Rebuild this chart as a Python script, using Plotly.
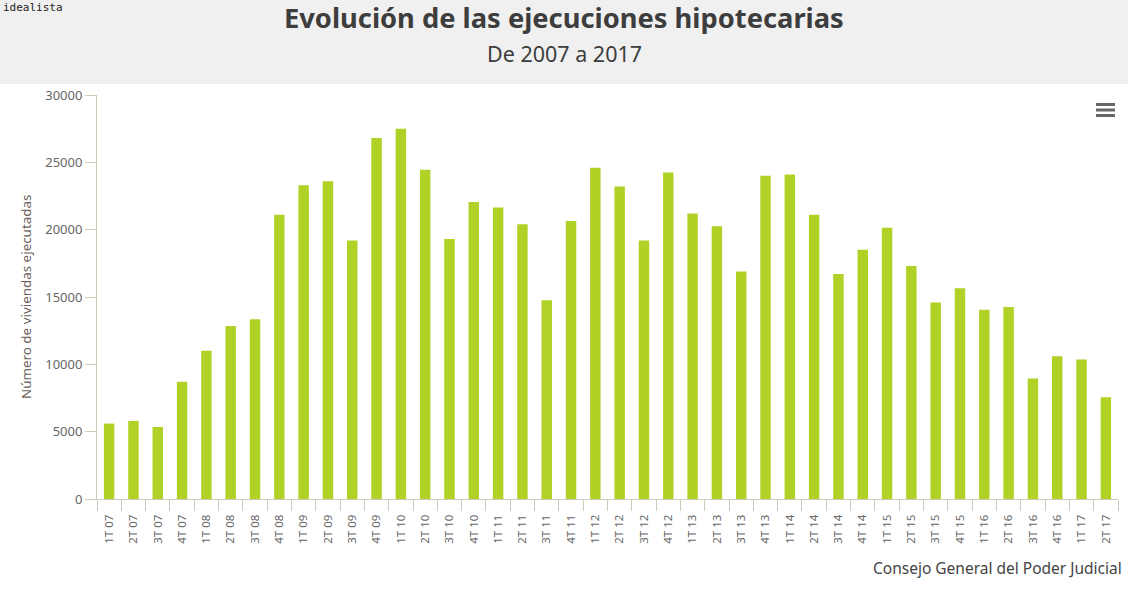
import plotly.graph_objects as go

years = ["07", "08", "09", "10", "11", "12", "13", "14", "15", "16", "17"]
categories = [f"{q}T {y}" for y in years for q in (1, 2, 3, 4)][:42]
values = [5600, 5800, 5350, 8700, 11000, 12850, 13350, 21100, 23300, 23600, 19200,
          26800, 27500, 24450, 19300, 22050, 21650, 20400, 14750, 20650, 24600,
          23200, 19200, 24250, 21200, 20250, 16900, 24000, 24100, 21100, 16700,
          18500, 20150, 17300, 14600, 15650, 14050, 14250, 8950, 10600, 10350, 7550]
title = "Evolución de las ejecuciones hipotecarias"
subtitle = "De 2007 a 2017"
y_title = "Número de viviendas ejecutadas"
credit = "Consejo General del Poder Judicial"
brand = "idealista"

W, H = 1128, 591
L, R, T, B = 97, 10, 95, 92
FONT = "Noto Sans"
PW, PH = W - L - R, H - T - B
px = lambda x: (x - L) / PW
py = lambda y: 1 - (y - T) / PH

fig = go.Figure(go.Bar(x=categories, y=values, marker_color="#b0d126",
                       marker_line_width=0, width=0.43))

shapes = [dict(type="rect", xref="paper", yref="paper", x0=px(0), x1=px(W),
               y0=py(0), y1=py(84), fillcolor="#f0f0f0", line_width=0, layer="below")]
for yy in (104.5, 110, 115.5):
    shapes.append(dict(type="line", xref="paper", yref="paper", x0=px(1096), x1=px(1115),
                       y0=py(yy), y1=py(yy), line=dict(color="#666666", width=3)))

annotations = [
    dict(text=f"<b>{title}</b>", x=px(564), y=py(17.5), xref="paper", yref="paper", showarrow=False,
         xanchor="center", yanchor="middle", font=dict(family=FONT, size=27.3, color="#3d3d3d")),
    dict(text=subtitle, x=px(564), y=py(54), xref="paper", yref="paper", showarrow=False,
         xanchor="center", yanchor="middle", font=dict(family=FONT, size=21.5, color="#3d3d3d")),
    dict(text=credit, x=px(1124), y=py(568), xref="paper", yref="paper", showarrow=False,
         xanchor="right", yanchor="middle", font=dict(family=FONT, size=15.5, color="#444444")),
    dict(text=brand, x=px(1), y=py(7), xref="paper", yref="paper", showarrow=False,
         xanchor="left", yanchor="middle", font=dict(family="DejaVu Sans Mono", size=11, color="#222222")),
    dict(text=y_title, x=px(26), y=py(297), xref="paper", yref="paper", showarrow=False, textangle=-90,
         xanchor="center", yanchor="middle", font=dict(family=FONT, size=13.4, color="#6b5f57")),
]

fig.update_layout(
    width=W, height=H, margin=dict(l=L, r=R, t=T, b=B), autosize=False,
    paper_bgcolor="white", plot_bgcolor="white", showlegend=False,
    font=dict(family=FONT, size=11, color="#666666"),
    shapes=shapes, annotations=annotations,
    xaxis=dict(type="category", tickson="boundaries", ticks="outside", ticklen=11, tickwidth=1,
               tickcolor="#ccccbb", showline=True, linecolor="#ccccbb", linewidth=1,
               showgrid=False, tickangle=-90, tickfont=dict(size=11.5, color="#666666"),
               ticklabelstandoff=10,
               categoryorder="array", categoryarray=categories),
    yaxis=dict(range=[0, 30000], tick0=0, dtick=5000, ticks="outside", ticklen=11, tickwidth=1,
               tickcolor="#ccccbb", showline=True, linecolor="#ccccbb", linewidth=1,
               showgrid=False, zeroline=False, tickformat="d", tickfont=dict(size=13, color="#666666")),
)
fig.write_html("out.html", config=dict(displayModeBar=False),
               post_script="document.body.style.margin='0';document.documentElement.style.overflow='hidden';")
